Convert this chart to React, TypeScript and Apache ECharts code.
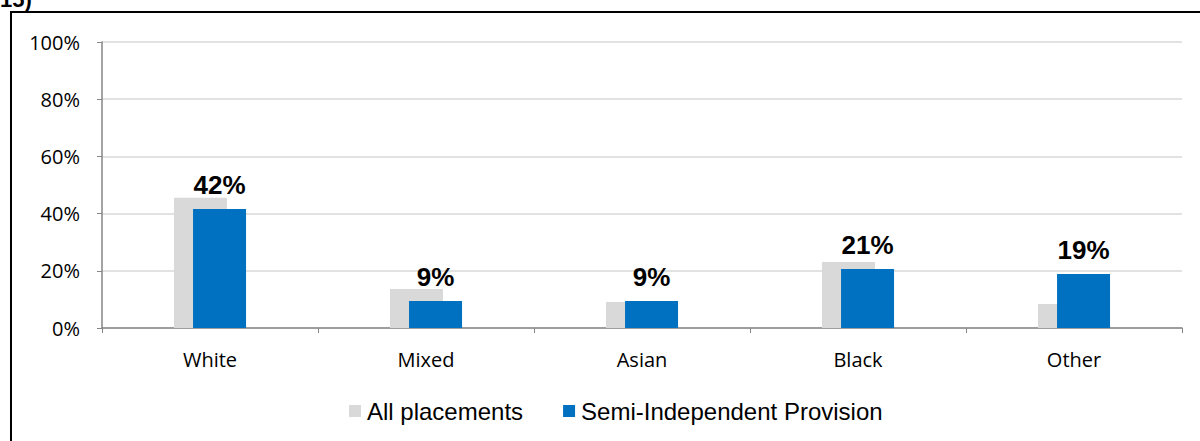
import React, { useEffect, useRef } from "react";
import * as echarts from "echarts";

const categories = ["White", "Mixed", "Asian", "Black", "Other"];
const allPlacements = [45.5, 13.6, 9.1, 23.1, 8.4];
const semiIndependent = [41.6, 9.4, 9.4, 20.6, 18.9];
const semiLabels = ["42%", "9%", "9%", "21%", "19%"];
const yTicks = [0, 20, 40, 60, 80, 100];

export default function App() {
  const ref = useRef<HTMLDivElement>(null);
  useEffect(() => {
    document.body.style.margin = "0";
    const chart = echarts.init(ref.current!, null, { renderer: "svg" });
    chart.setOption({
      animation: false,
      graphic: [
        {
          type: "rect",
          shape: { x: 11, y: 12, width: 1300, height: 600 },
          style: { fill: "none", stroke: "#000", lineWidth: 2 },
          silent: true,
        },
        {
          type: "text",
          x: 0,
          y: -12,
          style: { text: "15)", font: "bold 22px Arial, 'Liberation Sans'", fill: "#000" },
        },
      ],
      grid: { left: 102, right: 18, top: 42, bottom: 113 },
      legend: {
        top: 399,
        left: 349,
        padding: 0,
        itemWidth: 12,
        itemHeight: 12,
        itemGap: 40,
        icon: "rect",
        textStyle: { fontFamily: "Arial, 'Liberation Sans'", fontSize: 24, color: "#000", padding: [0, 0, 0, 1] },
        data: ["All placements", "Semi-Independent Provision"],
      },
      xAxis: {
        type: "category",
        data: categories,
        axisLine: { lineStyle: { color: "#868686", width: 1.5 } },
        axisTick: { show: true, length: 5, lineStyle: { color: "#868686" } },
        axisLabel: { margin: 21, fontSize: 20, color: "#000", fontFamily: "'Open Sans', 'Noto Sans'" },
      },
      yAxis: {
        type: "value",
        min: 0,
        max: 100,
        interval: 20,
        axisLine: { show: true, lineStyle: { color: "#868686", width: 1.5 } },
        axisTick: { show: true, length: 5, lineStyle: { color: "#868686" } },
        splitLine: { lineStyle: { color: "#D9D9D9", width: 1.5 } },
        axisLabel: {
          margin: 22,
          fontSize: 20,
          color: "#000",
          fontFamily: "'Open Sans', 'Noto Sans'",
          formatter: (v: number) => (yTicks.includes(v) ? v + "%" : ""),
        },
      },
      series: [
        {
          name: "All placements",
          type: "bar",
          data: allPlacements,
          barWidth: 53,
          barGap: "-64%",
          itemStyle: { color: "#D9D9D9" },
        },
        {
          name: "Semi-Independent Provision",
          type: "bar",
          data: semiIndependent,
          barWidth: 53,
          itemStyle: { color: "#0070C0" },
          label: {
            show: true,
            position: "top",
            distance: 11,
            fontSize: 26,
            fontWeight: "bold",
            color: "#000",
            fontFamily: "Arial, 'Liberation Sans'",
            formatter: (p: any) => semiLabels[p.dataIndex],
          },
        },
      ],
    });
    return () => chart.dispose();
  }, []);
  return <div ref={ref} style={{ width: 1200, height: 441 }} />;
}
